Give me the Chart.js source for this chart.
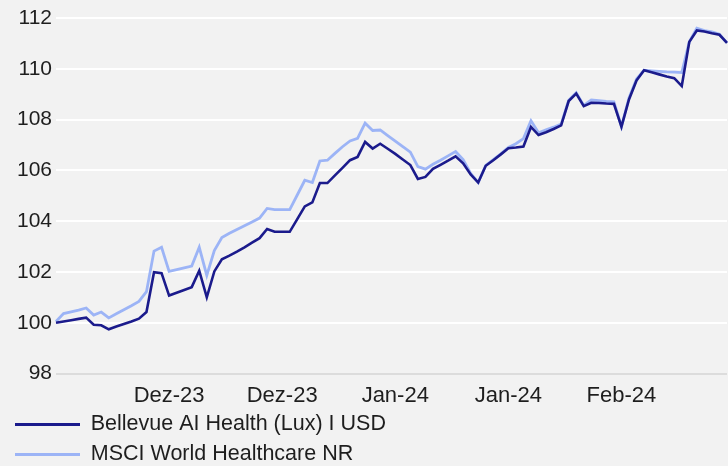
<!DOCTYPE html>
<html>
<head>
<meta charset="utf-8">
<script src="https://cdn.jsdelivr.net/npm/chart.js@4"></script>
<style>
  html, body { margin: 0; padding: 0; background: #f2f2f2; }
  #wrap { width: 728px; height: 466px; }
</style>
</head>
<body>
<div id="wrap"><canvas id="perfChart"></canvas></div>
<script>
// Indexierte Wertentwicklung (Start = 100)
const bellevue = [
  100.00, 100.05, 100.10, 100.15, 100.20, 99.92, 99.90, 99.74, 99.85, 99.95,
  100.05, 100.16, 100.42, 101.99, 101.95, 101.07, 101.18, 101.29, 101.40, 102.05,
  101.00, 102.02, 102.50, 102.64, 102.80, 102.97, 103.15, 103.33, 103.69, 103.58,
  103.58, 103.58, 104.08, 104.58, 104.74, 105.50, 105.50, 105.80, 106.10, 106.40,
  106.53, 107.12, 106.86, 107.05, 106.85, 106.65, 106.43, 106.21, 105.66, 105.74,
  106.06, 106.22, 106.38, 106.55, 106.28, 105.84, 105.52, 106.18, 106.40, 106.63,
  106.87, 106.90, 106.94, 107.71, 107.39, 107.50, 107.63, 107.77, 108.73, 109.02,
  108.53, 108.66, 108.65, 108.63, 108.62, 107.72, 108.79, 109.54, 109.94, 109.86,
  109.78, 109.70, 109.63, 109.32, 111.06, 111.51, 111.47, 111.40, 111.34, 111.02
];
const msci = [
  100.05, 100.36, 100.43, 100.50, 100.58, 100.30, 100.42, 100.19, 100.35, 100.51,
  100.67, 100.84, 101.22, 102.82, 102.97, 102.02, 102.09, 102.16, 102.23, 102.97,
  101.86, 102.84, 103.35, 103.52, 103.67, 103.82, 103.97, 104.12, 104.50, 104.45,
  104.45, 104.45, 105.03, 105.61, 105.52, 106.37, 106.40, 106.67, 106.93, 107.16,
  107.26, 107.86, 107.57, 107.59, 107.37, 107.15, 106.93, 106.72, 106.15, 106.05,
  106.24, 106.40, 106.57, 106.74, 106.42, 105.88, 105.52, 106.20, 106.42, 106.65,
  106.90, 107.05, 107.25, 107.95, 107.48, 107.60, 107.70, 107.82, 108.76, 109.06,
  108.56, 108.77, 108.75, 108.72, 108.70, 107.72, 108.85, 109.60, 109.94, 109.92,
  109.90, 109.88, 109.87, 109.85, 111.06, 111.60, 111.50, 111.45, 111.36, 111.02
];
const tickLabels = ['Dez-23', 'Dez-23', 'Jan-24', 'Jan-24', 'Feb-24'];
const tickIndex = [15, 30, 45, 60, 75];
const yTicks = [98, 100, 102, 104, 106, 108, 110, 112];

const labels = bellevue.map((v, i) => {
  const k = tickIndex.indexOf(i);
  return k >= 0 ? tickLabels[k] : '';
});

const colors = {
  fund: '#1b1b8c',
  index: '#9cb4f6',
  text: '#1e1e1e',
  grid: '#ffffff',
  axis: '#dcdcdc'
};

const font = 'Liberation Sans, Arial, sans-serif';

new Chart(document.getElementById('perfChart'), {
  type: 'line',
  data: {
    labels: labels,
    datasets: [{
      label: 'Bellevue AI Health (Lux) I USD',
      data: bellevue,
      borderColor: colors.fund,
      backgroundColor: colors.fund,
      borderWidth: 2.6,
      pointRadius: 0,
      tension: 0
    }, {
      label: 'MSCI World Healthcare NR',
      data: msci,
      borderColor: colors.index,
      backgroundColor: colors.index,
      borderWidth: 2.8,
      pointRadius: 0,
      tension: 0
    }]
  },
  options: {
    responsive: true,
    maintainAspectRatio: false,
    animation: false,
    layout: {
      padding: { top: 18, right: 0, bottom: -9.25, left: 6.5 }
    },
    plugins: {
      tooltip: { enabled: false },
      legend: {
        position: 'bottom',
        align: 'start',
        labels: {
          color: colors.text,
          font: { family: font, size: 21.5 },
          boxWidth: 65,
          boxHeight: 3,
          padding: 8.5,
          generateLabels: chart => chart.data.datasets.map((ds, i) => ({
            text: ds.label,
            fillStyle: ds.borderColor,
            strokeStyle: ds.borderColor,
            lineWidth: 0,
            fontColor: colors.text,
            datasetIndex: i
          }))
        }
      }
    },
    scales: {
      x: {
        type: 'category',
        offset: false,
        grid: { display: false },
        border: { display: false },
        ticks: {
          autoSkip: false,
          maxRotation: 0,
          minRotation: 0,
          padding: 1,
          color: colors.text,
          font: { family: font, size: 22 }
        },
        afterFit: scale => { scale.height = 31.75; }
      },
      y: {
        min: 98,
        max: 112,
        afterBuildTicks: scale => { scale.ticks = yTicks.map(v => ({ value: v })); },
        grid: {
          color: ctx => ctx.tick && ctx.tick.value === 98 ? colors.axis : colors.grid,
          lineWidth: 2,
          drawTicks: false
        },
        border: { display: false },
        ticks: {
          padding: 4,
          color: colors.text,
          font: { family: font, size: 21 }
        },
        afterFit: scale => { scale.width = 49.5; }
      }
    }
  }
});
</script>
</body>
</html>
